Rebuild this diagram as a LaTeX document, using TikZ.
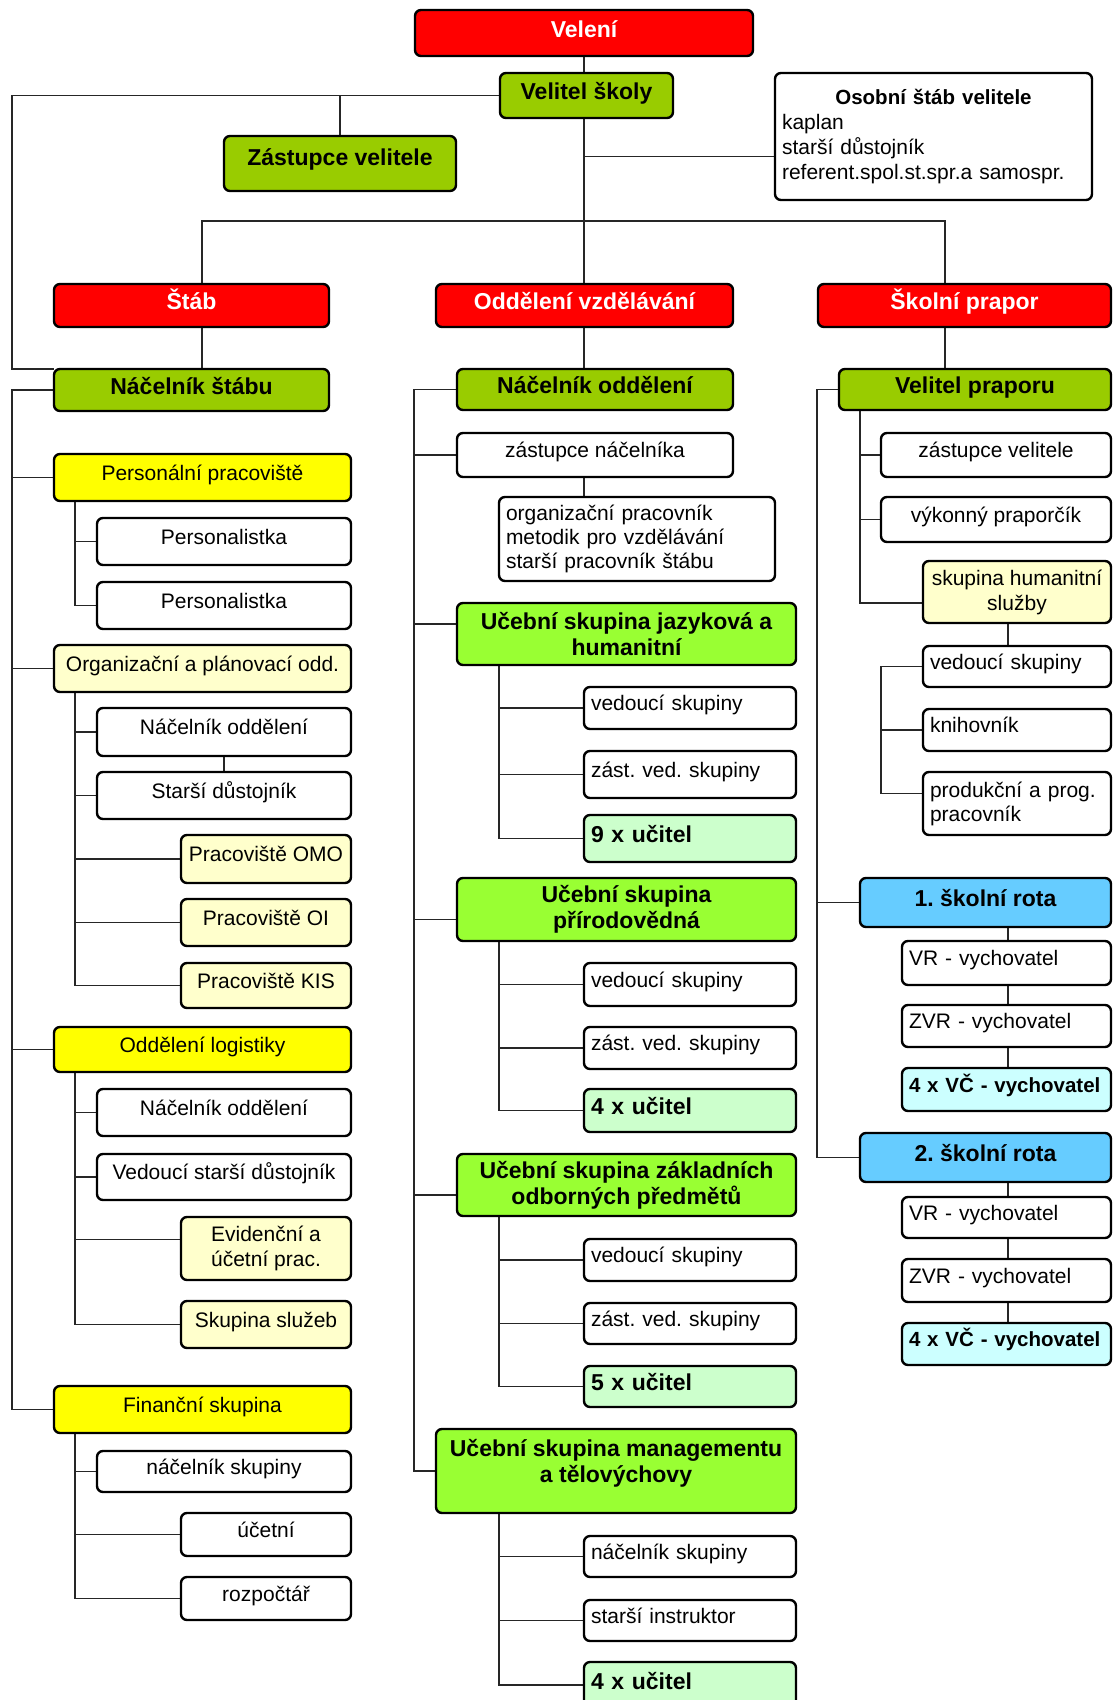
\documentclass[tikz,border=0pt]{standalone}
\usepackage{fontspec}
\setmainfont{Liberation Sans}
\usepackage{tikz}
\usetikzlibrary{positioning}
\usetikzlibrary{backgrounds,calc}
\frenchspacing
\definecolor{cmdred}{HTML}{FF0000}
\definecolor{chiefgreen}{HTML}{99CC00}
\definecolor{secyellow}{HTML}{FFFF00}
\definecolor{secpale}{HTML}{FFFFCC}
\definecolor{grplime}{HTML}{99FF33}
\definecolor{tchmint}{HTML}{CCFFCC}
\definecolor{coysky}{HTML}{66CCFF}
\definecolor{tutice}{HTML}{CCFFFF}
\tikzstyle{unit}=[draw=black,line width=2.4pt,rounded corners=6pt,outer sep=0pt,inner xsep=7pt,inner ysep=0pt,anchor=north west,fill=white,font=\fontsize{21}{25}\selectfont\frenchspacing,text height=15pt,text depth=10pt]
\tikzstyle{head}=[font=\fontsize{23}{26}\selectfont\bfseries,text height=16.5pt,text depth=8pt]
\tikzstyle{multi}=[text height={},text depth={}]
\tikzstyle{command}=[fill=cmdred,text=white]
\tikzstyle{chief}=[fill=chiefgreen]
\tikzstyle{section}=[fill=secyellow]
\tikzstyle{office}=[fill=secpale]
\tikzstyle{group}=[fill=grplime]
\tikzstyle{teachers}=[fill=tchmint]
\tikzstyle{company}=[fill=coysky]
\tikzstyle{tutors}=[fill=tutice]
\tikzstyle{link}=[line width=1.8pt,draw=black!85]

\begin{document}
\begin{tikzpicture}[x=1pt,y=-1pt]
\useasboundingbox (0,0) rectangle (1113,1700);

\node[unit,head,command,minimum width=338pt,minimum height=46pt] (velen) at (415,10) {Velení};
\node[unit,head,chief,minimum width=173pt,minimum height=45pt] (velitel) at (500,73) {Velitel školy};
\node[unit,head,chief,minimum width=232pt,minimum height=55pt,text depth=12pt] (zast) at (224,136) {Zástupce velitele};
\node[unit,multi,text width=303pt,align=left,minimum height=127pt] (osobni) at (775,73)
  {\makebox[303pt]{\fontsize{20.5}{25}\selectfont\bfseries Osobní štáb velitele}\\kaplan\\starší důstojník\\referent.spol.st.spr.a samospr.\\[-4pt]};

\node[unit,head,command,minimum width=275pt,minimum height=43pt] (stab) at (54,284) {Štáb};
\node[unit,head,command,minimum width=297pt,minimum height=43pt] (oddvzd) at (436,284) {Oddělení vzdělávání};
\node[unit,head,command,minimum width=293pt,minimum height=43pt] (prapor) at (818,284) {Školní prapor};
\node[unit,head,chief,minimum width=275pt,minimum height=42pt] (nacstab) at (54,369) {Náčelník štábu};
\node[unit,head,chief,minimum width=276pt,minimum height=41pt] (nacodd) at (457,369) {Náčelník oddělení};
\node[unit,head,chief,minimum width=272pt,minimum height=41pt] (velprap) at (839,369) {Velitel praporu};

\node[unit,section,minimum width=297pt,minimum height=47pt] (perso) at (54,454) {Personální pracoviště};
\node[unit,minimum width=254pt,minimum height=47pt] (pers1) at (97,518) {Personalistka};
\node[unit,minimum width=254pt,minimum height=47pt] (pers2) at (97,582) {Personalistka};
\node[unit,office,minimum width=297pt,minimum height=47pt] (orgpl) at (54,645) {Organizační a plánovací odd.};
\node[unit,minimum width=254pt,minimum height=48pt] (orgnac) at (97,708) {Náčelník oddělení};
\node[unit,minimum width=254pt,minimum height=47pt] (orgsd) at (97,772) {Starší důstojník};
\node[unit,office,minimum width=170pt,minimum height=48pt] (omo) at (181,835) {Pracoviště OMO};
\node[unit,office,minimum width=170pt,minimum height=47pt] (oi) at (181,899) {Pracoviště OI};
\node[unit,office,minimum width=170pt,minimum height=45pt] (kis) at (181,963) {Pracoviště KIS};
\node[unit,section,minimum width=297pt,minimum height=45pt] (logist) at (54,1027) {Oddělení logistiky};
\node[unit,minimum width=254pt,minimum height=47pt] (lognac) at (97,1089) {Náčelník oddělení};
\node[unit,minimum width=254pt,minimum height=46pt] (logvsd) at (97,1154) {Vedoucí starší důstojník};
\node[unit,office,multi,align=center,minimum width=170pt,minimum height=63pt] (evid) at (181,1217) {Evidenční a\\účetní prac.};
\node[unit,office,minimum width=170pt,minimum height=47pt] (sluzby) at (181,1301) {Skupina služeb};
\node[unit,section,minimum width=297pt,minimum height=47pt] (financ) at (54,1386) {Finanční skupina};
\node[unit,minimum width=254pt,minimum height=41pt] (finnac) at (97,1451) {náčelník skupiny};
\node[unit,minimum width=170pt,minimum height=43pt] (ucetni) at (181,1513) {účetní};
\node[unit,minimum width=170pt,minimum height=43pt] (rozp) at (181,1577) {rozpočtář};

\node[unit,minimum width=276pt,minimum height=44pt] (zastnac) at (457,433) {zástupce náčelníka};
\node[unit,multi,text width=262pt,align=left,minimum height=84pt,font=\fontsize{21}{24}\selectfont] (orgbox) at (499,497)
  {organizační pracovník\\metodik pro vzdělávání\\starší pracovník štábu};
\node[unit,head,multi,group,align=center,minimum width=339pt,minimum height=62pt] (ucjaz) at (457,603) {Učební skupina jazyková a\\humanitní};
\node[unit,text width=198pt,align=left,minimum height=42pt] (ved1) at (584,687) {vedoucí skupiny};
\node[unit,text width=198pt,align=left,minimum height=47pt] (zas1) at (584,751) {zást. ved. skupiny};
\node[unit,head,teachers,text width=198pt,align=left,minimum height=47pt] (uc9) at (584,815) {9 x učitel};
\node[unit,head,multi,group,align=center,minimum width=339pt,minimum height=63pt] (ucpri) at (457,878) {Učební skupina\\přírodovědná};
\node[unit,text width=198pt,align=left,minimum height=43pt] (ved2) at (584,963) {vedoucí skupiny};
\node[unit,text width=198pt,align=left,minimum height=42pt] (zas2) at (584,1027) {zást. ved. skupiny};
\node[unit,head,teachers,text width=198pt,align=left,minimum height=43pt] (uc4) at (584,1089) {4 x učitel};
\node[unit,head,multi,group,align=center,minimum width=339pt,minimum height=62pt] (uczak) at (457,1154) {Učební skupina základních\\odborných předmětů};
\node[unit,text width=198pt,align=left,minimum height=42pt] (ved3) at (584,1239) {vedoucí skupiny};
\node[unit,text width=198pt,align=left,minimum height=41pt] (zas3) at (584,1303) {zást. ved. skupiny};
\node[unit,head,teachers,text width=198pt,align=left,minimum height=41pt] (uc5) at (584,1366) {5 x učitel};
\node[unit,head,multi,group,align=center,minimum width=360pt,minimum height=84pt] (ucman) at (436,1429) {Učební skupina managementu\\a tělovýchovy\\[-6pt]};
\node[unit,text width=198pt,align=left,minimum height=41pt] (mannac) at (584,1536) {náčelník skupiny};
\node[unit,text width=198pt,align=left,minimum height=41pt] (starsi) at (584,1600) {starší instruktor};
\node[unit,head,teachers,text width=198pt,align=left,minimum height=46pt] (uc4b) at (584,1662) {4 x učitel};

\node[unit,minimum width=230pt,minimum height=44pt] (zastvel) at (881,433) {zástupce velitele};
\node[unit,minimum width=230pt,minimum height=45pt] (vykon) at (881,497) {výkonný praporčík};
\node[unit,office,multi,align=center,minimum width=188pt,minimum height=62pt] (skhum) at (923,561) {skupina humanitní\\služby};
\node[unit,text width=174pt,align=left,minimum height=41pt] (vedsk) at (923,646) {vedoucí skupiny};
\node[unit,text width=174pt,align=left,minimum height=42pt] (knih) at (923,709) {knihovník};
\node[unit,multi,text width=174pt,align=left,minimum height=63pt,font=\fontsize{21}{24}\selectfont] (produk) at (923,772) {produkční a prog.\\pracovník};
\node[unit,head,company,minimum width=251pt,minimum height=49pt] (rota1) at (860,878) {1. školní rota};
\node[unit,text width=195pt,align=left,minimum height=44pt] (vr1) at (902,941) {VR - vychovatel};
\node[unit,text width=195pt,align=left,minimum height=42pt] (zvr1) at (902,1005) {ZVR - vychovatel};
\node[unit,tutors,text width=195pt,align=left,minimum height=43pt,font=\fontsize{20.5}{24}\selectfont\bfseries] (vc1) at (902,1068) {4 x VČ - vychovatel};
\node[unit,head,company,minimum width=251pt,minimum height=49pt] (rota2) at (860,1133) {2. školní rota};
\node[unit,text width=195pt,align=left,minimum height=41pt] (vr2) at (902,1197) {VR - vychovatel};
\node[unit,text width=195pt,align=left,minimum height=43pt] (zvr2) at (902,1259) {ZVR - vychovatel};
\node[unit,tutors,text width=195pt,align=left,minimum height=42pt,font=\fontsize{20.5}{24}\selectfont\bfseries] (vc2) at (902,1323) {4 x VČ - vychovatel};

\coordinate (lx) at (12,0);
\coordinate (sx) at (75,0);
\coordinate (bx) at (202,0);
\coordinate (mx) at (414,0);
\coordinate (gx) at (499,0);
\coordinate (cx) at (584,0);
\coordinate (px) at (817,0);
\coordinate (qx) at (860,0);
\coordinate (kx) at (881,0);
\coordinate (fx) at (945,0);
\coordinate (rx) at (1008,0);
\coordinate (bus) at (584,221);
\coordinate (osob) at ([yshift=-20pt]osobni.west);
\coordinate (evidin) at ([yshift=9pt]evid.west);
\coordinate (jazin) at ([yshift=10pt]ucjaz.west);
\coordinate (priin) at ([yshift=-10pt]ucpri.west);
\coordinate (zakin) at ([yshift=-10pt]uczak.west);
\coordinate (humin) at ([yshift=-11pt]skhum.west);
\coordinate (prodin) at ([yshift=10pt]produk.west);

\begin{scope}[on background layer]
\draw[link] (velen.south) -- (cx |- oddvzd.north);
\draw[link] (velitel.west) -| (lx |- nacstab.north) -- (nacstab.north west);
\draw[link] (velitel.west -| zast.north) -- (zast.north);
\draw[link] (osob) -- (cx |- osob);
\draw[link] (bx |- stab.north) |- (bus) -| (fx |- prapor.north);
\draw[link] (bx |- stab.south) -- (bx |- nacstab.north);
\draw[link] (cx |- oddvzd.south) -- (cx |- nacodd.north);
\draw[link] (fx |- prapor.south) -- (fx |- velprap.north);

\draw[link] (nacstab.west) -| (lx |- financ.west) -- (financ.west);
\foreach \n in {perso,orgpl,logist}
  \draw[link] (lx |- \n.west) -- (\n.west);
\draw[link] (sx |- perso.south) |- (pers2.west);
\draw[link] (sx |- pers1.west) -- (pers1.west);
\draw[link] (sx |- orgpl.south) |- (kis.west);
\foreach \n in {orgnac,orgsd,omo,oi}
  \draw[link] (sx |- \n.west) -- (\n.west);
\draw[link] (orgnac.south) -- (orgsd.north);
\draw[link] (sx |- logist.south) |- (sluzby.west);
\foreach \n in {lognac,logvsd}
  \draw[link] (sx |- \n.west) -- (\n.west);
\draw[link] (sx |- evidin) -- (evidin);
\draw[link] (sx |- financ.south) |- (rozp.west);
\foreach \n in {finnac,ucetni}
  \draw[link] (sx |- \n.west) -- (\n.west);

\draw[link] (nacodd.west) -| (mx |- ucman.west) -- (ucman.west);
\draw[link] (mx |- zastnac.west) -- (zastnac.west);
\foreach \n in {jazin,priin,zakin}
  \draw[link] (mx |- \n) -- (\n);
\draw[link] (cx |- zastnac.south) -- (cx |- orgbox.north);
\draw[link] (gx |- ucjaz.south) |- (uc9.west);
\draw[link] (gx |- ucpri.south) |- (uc4.west);
\draw[link] (gx |- uczak.south) |- (uc5.west);
\draw[link] (gx |- ucman.south) |- (uc4b.west);
\foreach \n in {ved1,zas1,ved2,zas2,ved3,zas3,mannac,starsi}
  \draw[link] (gx |- \n.west) -- (\n.west);

\draw[link] (velprap.west) -| (px |- rota2.west) -- (rota2.west);
\draw[link] (px |- rota1.west) -- (rota1.west);
\draw[link] (qx |- velprap.south) |- (humin);
\foreach \n in {zastvel,vykon}
  \draw[link] (qx |- \n.west) -- (\n.west);
\draw[link] (rx |- skhum.south) -- (rx |- vedsk.north);
\draw[link] (vedsk.west) -| (kx |- prodin) -- (prodin);
\draw[link] (kx |- knih.west) -- (knih.west);
\draw[link] (rx |- rota1.south) -- (rx |- vc1.north);
\draw[link] (rx |- rota2.south) -- (rx |- vc2.north);
\end{scope}

\end{tikzpicture}
\end{document}
